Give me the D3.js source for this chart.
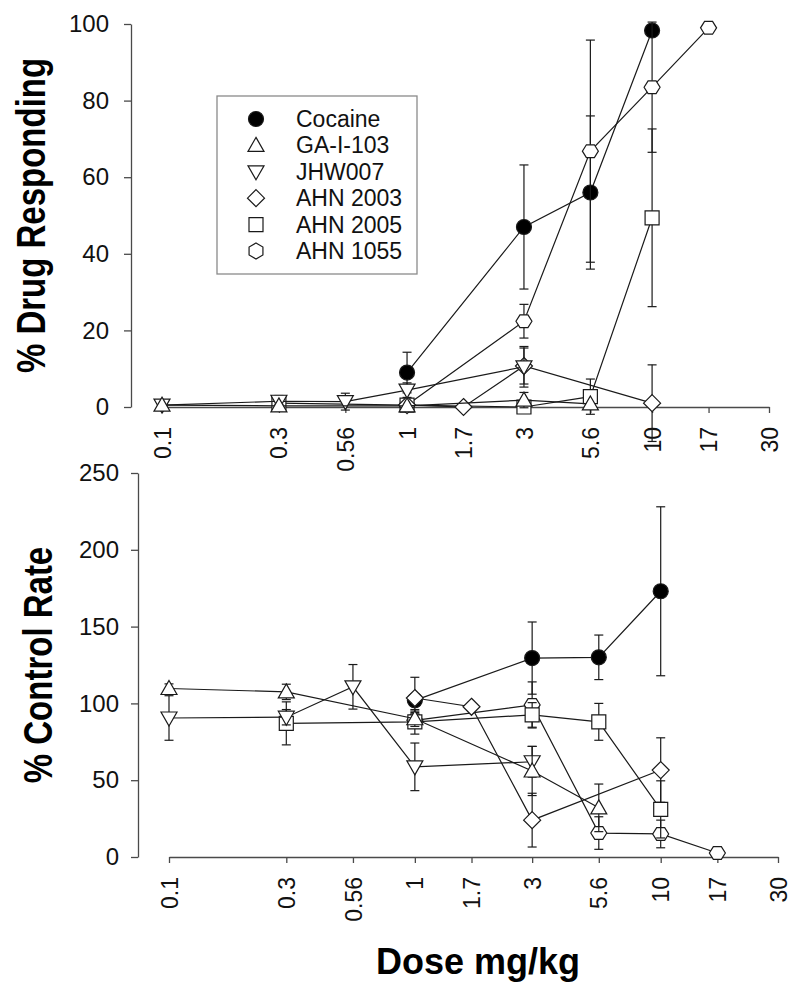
<!DOCTYPE html>
<html>
<head>
<meta charset="utf-8">
<script src="https://cdn.jsdelivr.net/npm/d3@7/dist/d3.min.js"></script>
<style>
  html, body { margin: 0; padding: 0; background: #fff; }
  svg { display: block; font-family: "Liberation Sans", Arial, sans-serif; }
</style>
</head>
<body>
<svg id="chart" width="800" height="991"></svg>
<script>
// ---------- data ----------
const doseTicks = [0.1, 0.3, 0.56, 1, 1.7, 3, 5.6, 10, 17, 30];
const doseTickLabels = ["0.1", "0.3", "0.56", "1", "1.7", "3", "5.6", "10", "17", "30"];
const drugTicks = [0, 20, 40, 60, 80, 100];
const rateTicks = [0, 50, 100, 150, 200, 250];

const compounds = ["Cocaine", "AHN 1055", "AHN 2005", "AHN 2003", "JHW007", "GA-I-103"];
const legendOrder = ["Cocaine", "GA-I-103", "JHW007", "AHN 2003", "AHN 2005", "AHN 1055"];
const markerOf = {
  "Cocaine": "circle", "GA-I-103": "triUp", "JHW007": "triDown",
  "AHN 2003": "diamond", "AHN 2005": "square", "AHN 1055": "hexagon"
};

// % Drug Responding (top panel)
const cocaineDoses = [1, 3, 5.6, 10];
const cocaineDrug = [9, 47, 56, 98.3];
const cocaineDrugErr = [5.3, 16.2, 20, 1.5];
const gaDoses = [0.1, 0.3, 1, 3, 5.6];
const gaDrug = [0.5, 0.3, 0.3, 1.8, 0.8];
const gaDrugErr = [0.3, 0.3, 0.3, 2, 0.5];
const jhwDoses = [0.1, 0.3, 0.56, 1, 3];
const jhwDrug = [0.5, 1.5, 1.4, 4.4, 10.5];
const jhwDrugErr = [0.3, 0.8, 2.2, 1.9, 5.3];
const ahn2003Doses = [1, 1.7, 3, 10];
const ahn2003Drug = [0.5, 0, 10.7, 1];
const ahn2003DrugErr = [0.5, 0, 4.7, 10];
const ahn2005Doses = [0.3, 1, 3, 5.6, 10];
const ahn2005Drug = [1, 0.5, 0, 2.7, 49.4];
const ahn2005DrugErr = [2, 0.5, 0, 4.6, 23.2];
const ahn1055Doses = [1, 3, 5.6, 10, 17];
const ahn1055Drug = [0.5, 22.4, 66.8, 83.5, 99];
const ahn1055DrugErr = [0.5, 4.4, 29, 17, 0];

// % Control Rate (bottom panel)
const cocaineRate = [102, 129.5, 130, 173];
const cocaineRateErr = [4, 23.5, 14.5, 55];
const gaRate = [109.7, 107.5, 90, 56, 32];
const gaRateErr = [3, 5, 5, 16, 15.5];
const jhwRate = [90.5, 91, 110.8, 58.7, 62];
const jhwRateErr = [14.5, 5, 14.5, 15.5, 10];
const ahn2003Rate = [103.5, 97.8, 24, 56.6];
const ahn2003RateErr = [13.5, 2, 17.5, 21];
const ahn2005Rate = [87, 88, 92.5, 88, 31];
const ahn2005RateErr = [14, 8, 8, 12, 18.6];
const ahn1055Rate = [89, 99, 15.6, 15, 2.6];
const ahn1055RateErr = [5, 15, 10.6, 9, 1];

function zipSeries(doses, vals, errs) {
  return doses.map((d, i) => ({ dose: d, v: vals[i], e: errs[i] }));
}
const drugData = {
  "Cocaine": zipSeries(cocaineDoses, cocaineDrug, cocaineDrugErr),
  "GA-I-103": zipSeries(gaDoses, gaDrug, gaDrugErr),
  "JHW007": zipSeries(jhwDoses, jhwDrug, jhwDrugErr),
  "AHN 2003": zipSeries(ahn2003Doses, ahn2003Drug, ahn2003DrugErr),
  "AHN 2005": zipSeries(ahn2005Doses, ahn2005Drug, ahn2005DrugErr),
  "AHN 1055": zipSeries(ahn1055Doses, ahn1055Drug, ahn1055DrugErr)
};
const rateData = {
  "Cocaine": zipSeries(cocaineDoses, cocaineRate, cocaineRateErr),
  "GA-I-103": zipSeries(gaDoses, gaRate, gaRateErr),
  "JHW007": zipSeries(jhwDoses, jhwRate, jhwRateErr),
  "AHN 2003": zipSeries(ahn2003Doses, ahn2003Rate, ahn2003RateErr),
  "AHN 2005": zipSeries(ahn2005Doses, ahn2005Rate, ahn2005RateErr),
  "AHN 1055": zipSeries(ahn1055Doses, ahn1055Rate, ahn1055RateErr)
};

// ---------- drawing ----------
const svg = d3.select("#chart");
const INK = "#1a1a1a";
const AXIS = "#4a4a4a";

function markerPath(type, legend) {
  const p = d3.path();
  if (type === "circle") {
    p.arc(0, 0, 7.5, 0, 2 * Math.PI);
  } else if (type === "triUp") {
    p.moveTo(0, -8); p.lineTo(8, 6); p.lineTo(-8, 6); p.closePath();
  } else if (type === "triDown") {
    p.moveTo(0, 8); p.lineTo(8, -6); p.lineTo(-8, -6); p.closePath();
  } else if (type === "diamond") {
    p.moveTo(0, -8.5); p.lineTo(8.5, 0); p.lineTo(0, 8.5); p.lineTo(-8.5, 0); p.closePath();
  } else if (type === "square") {
    p.rect(-7, -7, 14, 14);
  } else if (type === "hexagon") {
    const r = 8;
    const off = legend ? -Math.PI / 2 : 0;
    for (let k = 0; k < 6; k++) {
      const a = off + k * Math.PI / 3;
      const x = r * Math.cos(a), y = r * Math.sin(a) * (legend ? 1 : 0.92);
      if (k === 0) p.moveTo(x, y); else p.lineTo(x, y);
    }
    p.closePath();
  }
  return p.toString();
}

function drawPanel(cfg) {
  const x = d3.scaleLog().domain([0.1, 30]).range(cfg.xRange);
  const y = d3.scaleLinear().domain(cfg.yDomain).range(cfg.yRange);
  const g = svg.append("g");

  // x axis
  const xa = g.append("g")
    .attr("transform", `translate(0,${cfg.yRange[0]})`)
    .call(d3.axisBottom(x).tickValues(doseTicks)
      .tickFormat((d, i) => doseTickLabels[i]).tickSize(6).tickSizeOuter(0));
  xa.selectAll("text")
    .attr("y", 0).attr("x", -20).attr("dy", "0.35em")
    .attr("transform", "rotate(-90)")
    .style("text-anchor", "end")
    .style("font-size", "23px").style("fill", "#111")
    .style("font-family", "'Liberation Sans', Arial, sans-serif");
  xa.selectAll("path,line").attr("stroke", AXIS).attr("stroke-width", 1.3);

  // y axis
  const ya = g.append("g")
    .attr("transform", `translate(${cfg.yAxisX},0)`)
    .call(d3.axisLeft(y).tickValues(cfg.yTicks).tickSize(7).tickSizeOuter(0)
      .tickPadding(cfg.yPad).tickFormat(d3.format("d")));
  ya.selectAll("text")
    .style("font-size", "24px").style("fill", "#111")
    .style("font-family", "'Liberation Sans', Arial, sans-serif");
  ya.selectAll("path,line").attr("stroke", AXIS).attr("stroke-width", 1.3);

  // y title
  g.append("text")
    .attr("transform", `translate(${cfg.titleX},${(cfg.yRange[0] + cfg.yRange[1]) / 2}) scale(1.25,1) rotate(-90)`)
    .attr("text-anchor", "middle")
    .style("font-size", "33px").style("font-weight", "bold").style("fill", "#000")
    .text(cfg.title);

  const line = d3.line().x(d => x(d.dose)).y(d => y(d.v));
  compounds.forEach(name => {
    const data = cfg.data[name];
    const s = g.append("g");
    s.append("path").datum(data)
      .attr("d", line).attr("fill", "none")
      .attr("stroke", INK).attr("stroke-width", 1.2);
    const eb = s.selectAll(".eb").data(data.filter(d => d.e > 0.6)).enter().append("g");
    eb.append("line")
      .attr("x1", d => x(d.dose)).attr("x2", d => x(d.dose))
      .attr("y1", d => y(d.v - d.e)).attr("y2", d => y(d.v + d.e))
      .attr("stroke", INK).attr("stroke-width", 1.2);
    [-1, 1].forEach(sg => {
      eb.append("line")
        .attr("x1", d => x(d.dose) - 4.5).attr("x2", d => x(d.dose) + 4.5)
        .attr("y1", d => y(d.v + sg * d.e)).attr("y2", d => y(d.v + sg * d.e))
        .attr("stroke", INK).attr("stroke-width", 1.2);
    });
    s.selectAll(".mk").data(data).enter().append("path")
      .attr("transform", d => `translate(${x(d.dose)},${y(d.v)})`)
      .attr("d", markerPath(markerOf[name], false))
      .attr("fill", name === "Cocaine" ? "#000" : "#fff")
      .attr("stroke", INK).attr("stroke-width", 1.2);
  });
  return g;
}

drawPanel({
  xRange: [162, 769], yDomain: [0, 100], yRange: [407, 24], yAxisX: 131, yPad: 15,
  yTicks: drugTicks, title: "% Drug Responding", titleX: 45, data: drugData
});
drawPanel({
  xRange: [169, 778], yDomain: [0, 250], yRange: [857, 473], yAxisX: 138, yPad: 12,
  yTicks: rateTicks, title: "% Control Rate", titleX: 52, data: rateData
});

// x title
svg.append("text")
  .attr("x", 478).attr("y", 974).attr("text-anchor", "middle")
  .style("font-size", "36px").style("font-weight", "bold").style("fill", "#000")
  .text("Dose mg/kg");

// legend
const lg = svg.append("g");
lg.append("rect").attr("x", 217).attr("y", 96).attr("width", 200).attr("height", 178)
  .attr("fill", "#fff").attr("stroke", "#8a8a8a").attr("stroke-width", 1.3);
const legendY = d3.scalePoint().domain(legendOrder).range([119, 251]);
legendOrder.forEach(name => {
  const cy = legendY(name);
  lg.append("path").attr("transform", `translate(256,${cy})`)
    .attr("d", markerPath(markerOf[name], true))
    .attr("fill", name === "Cocaine" ? "#000" : "#fff")
    .attr("stroke", INK).attr("stroke-width", 1.2);
  lg.append("text").attr("x", 296).attr("y", cy + 8)
    .style("font-size", "23px").style("fill", "#111").text(name);
});
</script>
</body>
</html>
